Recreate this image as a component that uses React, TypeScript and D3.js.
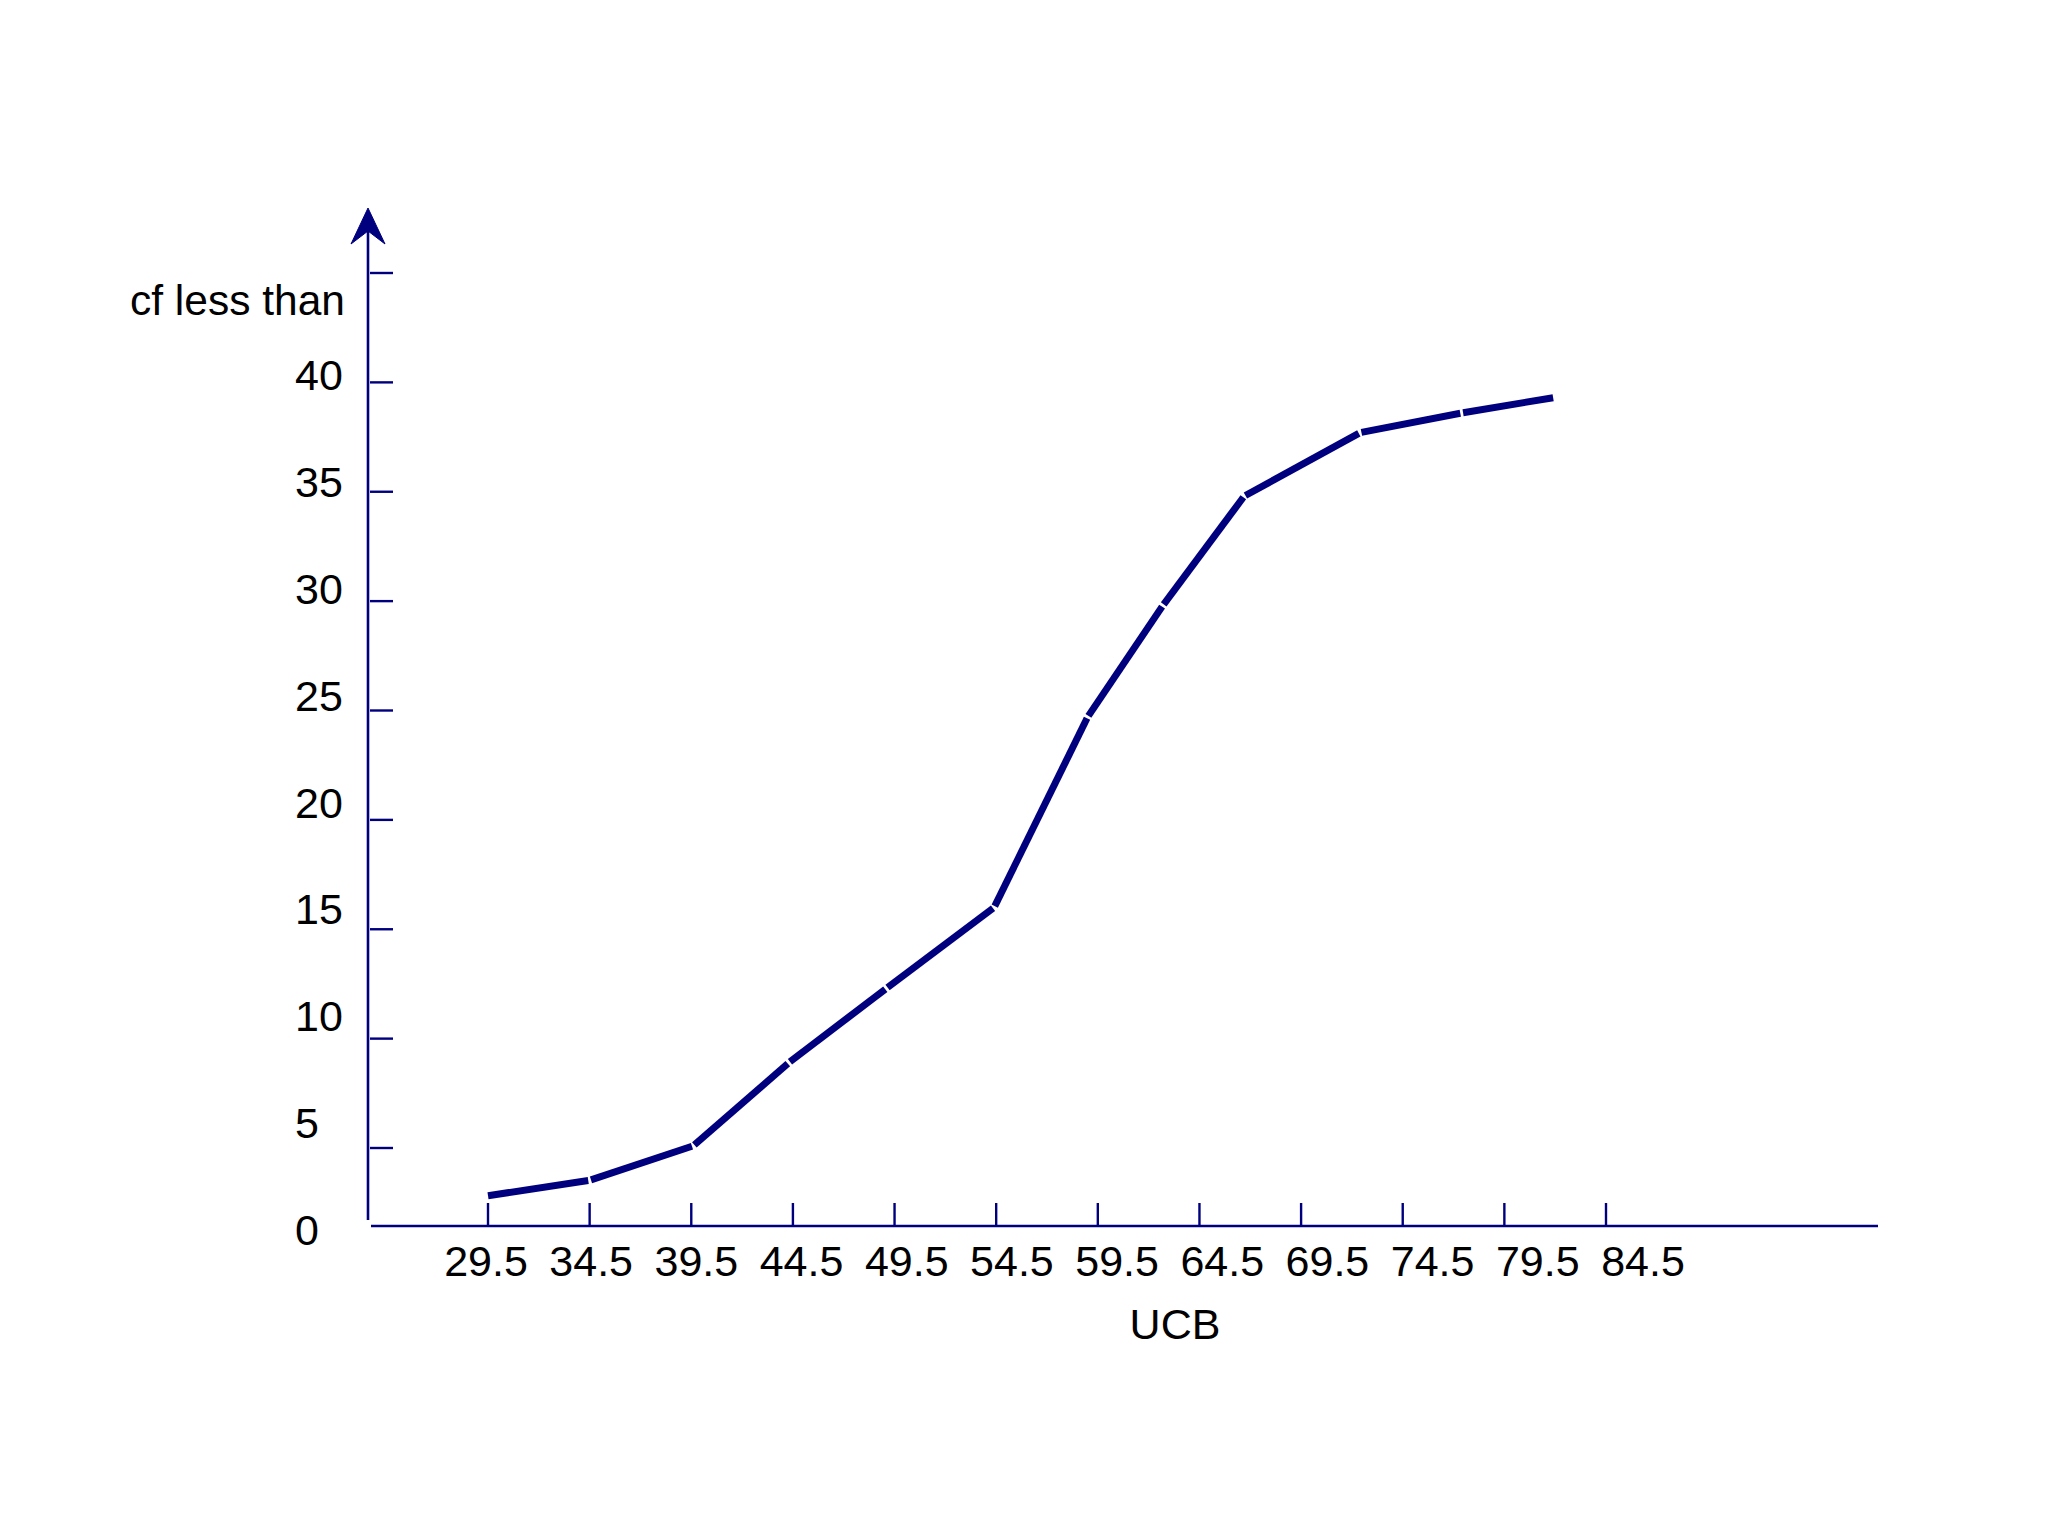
import React from "react";
import * as d3 from "d3";

// ---- data ----
const ucbTicks: number[] = [29.5, 34.5, 39.5, 44.5, 49.5, 54.5, 59.5, 64.5, 69.5, 74.5, 79.5, 84.5];
const yTickValues: number[] = [5, 10, 15, 20, 25, 30, 35, 40, 45];
const yLabelValues: number[] = [0, 5, 10, 15, 20, 25, 30, 35, 40];
// ogive vertices as drawn (UCB position, cumulative frequency)
const curveX: number[] = [29.5, 34.5, 39.6, 44.3, 49.1, 54.4, 59.0, 62.7, 66.7, 72.4, 77.4, 81.9];
const curveY: number[] = [1.9, 2.9, 5.1, 8.9, 12.3, 16.0, 24.7, 29.8, 34.8, 37.7, 38.6, 39.3];
const xTitle = "UCB";
const yTitle = "cf less than";

const NAVY = "#00007f";
const FONT = "'Liberation Sans', Arial, Helvetica, sans-serif";

export default function App() {
  const W = 2048;
  const H = 1536;

  // scales
  const x = d3.scaleLinear().domain([29.5, 84.5]).range([488, 1606]);
  const xLabel = d3.scaleLinear().domain([29.5, 84.5]).range([486, 1643]);
  const y = d3.scaleLinear().domain([0, 5, 45]).range([1225, 1148, 273]);
  const yLabel = d3.scaleLinear().domain([0, 40]).range([1230, 375]);

  const axisX = 368;
  const axisY = y(0);
  const pts: [number, number][] = curveX.map((v, i) => [x(v), y(curveY[i])]);
  const segGen = d3.line<[number, number]>().x((d) => d[0]).y((d) => d[1]);

  // each stroke drawn separately, trimmed slightly at the joints
  const trim = 1.4;
  const segments = pts.slice(1).map((p, i) => {
    const a = pts[i];
    const dx = p[0] - a[0];
    const dy = p[1] - a[1];
    const len = Math.hypot(dx, dy);
    const ux = dx / len;
    const uy = dy / len;
    const s: [number, number] = i === 0 ? a : [a[0] + ux * trim, a[1] + uy * trim];
    const e: [number, number] = i === pts.length - 2 ? p : [p[0] - ux * trim, p[1] - uy * trim];
    return [s, e] as [number, number][];
  });

  return (
    <div style={{ position: "absolute", left: 0, top: 0 }}>
      <svg width={W} height={H} style={{ display: "block", background: "#ffffff" }}>
        <rect x={0} y={0} width={W} height={H} fill="#ffffff" />
        {/* y axis with arrow */}
        <line x1={axisX} y1={1220} x2={axisX} y2={228} stroke={NAVY} strokeWidth={2.6} />
        <path
          d={`M${axisX},208 L${axisX + 17},244 L${axisX},231 L${axisX - 17},244 Z`}
          fill={NAVY}
          stroke={NAVY}
          strokeWidth={1}
          strokeLinejoin="miter"
        />
        {/* y ticks */}
        {yTickValues.map((v) => (
          <line key={"yt" + v} x1={axisX + 2} x2={axisX + 25} y1={y(v)} y2={y(v)} stroke={NAVY} strokeWidth={2.4} />
        ))}
        {/* x axis */}
        <line x1={371} x2={1878} y1={axisY + 1} y2={axisY + 1} stroke={NAVY} strokeWidth={2.6} />
        {ucbTicks.map((v) => (
          <line key={"xt" + v} x1={x(v)} x2={x(v)} y1={axisY - 22} y2={axisY + 1} stroke={NAVY} strokeWidth={2.4} />
        ))}
        {/* x tick labels */}
        {ucbTicks.map((v) => (
          <text
            key={"xl" + v}
            x={xLabel(v)}
            y={1261 + 15}
            textAnchor="middle"
            fontFamily={FONT}
            fontSize={43}
            fill="#000000"
          >
            {v.toFixed(1)}
          </text>
        ))}
        {/* y tick labels */}
        {yLabelValues.map((v) => (
          <text
            key={"yl" + v}
            x={295}
            y={yLabel(v) + 15}
            textAnchor="start"
            fontFamily={FONT}
            fontSize={43}
            fill="#000000"
          >
            {String(v)}
          </text>
        ))}
        {/* titles */}
        <text x={130} y={315} fontFamily={FONT} fontSize={42.5} fill="#000000">
          {yTitle}
        </text>
        <text x={1175} y={1324 + 15} textAnchor="middle" fontFamily={FONT} fontSize={43} fill="#000000">
          {xTitle}
        </text>
        {/* ogive drawn as separate strokes */}
        {segments.map((seg, i) => (
          <path
            key={"seg" + i}
            d={segGen(seg) || ""}
            fill="none"
            stroke={NAVY}
            strokeWidth={7}
            strokeLinecap="butt"
          />
        ))}
      </svg>
    </div>
  );
}
